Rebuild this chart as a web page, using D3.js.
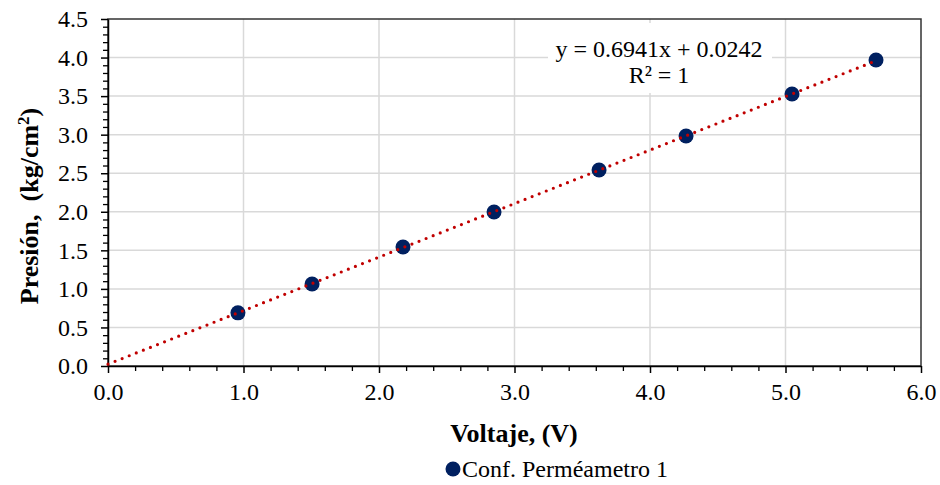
<!DOCTYPE html>
<html><head><meta charset="utf-8">
<script src="https://cdn.jsdelivr.net/npm/d3@7"></script>
<style>
html,body{margin:0;padding:0;background:#fff;}
</style></head>
<body><svg id="c" width="940" height="485" style="font-family:'Liberation Serif','Times New Roman',serif"></svg>
<script>
const voltage = [0.959, 1.506, 2.177, 2.849, 3.624, 4.266, 5.048, 5.668];
const pressure = [0.689, 1.064, 1.543, 1.997, 2.542, 2.983, 3.528, 3.969];
const xMajor = [0, 1, 2, 3, 4, 5, 6];
const yMajor = [0, 0.5, 1, 1.5, 2, 2.5, 3, 3.5, 4, 4.5];
const trendSlope = 0.6941, trendIntercept = 0.0242;
const equationLines = ["y = 0.6941x + 0.0242", "R² = 1"];
const seriesName = "Conf. Perméametro 1";

const FONT = '"Liberation Serif","Times New Roman",serif';
const svg = d3.select("#c");
const L = 108, R = 921, T = 19, B = 366;
const x = d3.scaleLinear().domain([0, 6]).range([L, R]);
const y = d3.scaleLinear().domain([0, 4.5]).range([B, T]);

// gridlines
svg.append("g").selectAll("line").data(yMajor.filter(v => v > 0 && v < 4.5)).join("line")
  .attr("x1", L).attr("x2", R).attr("y1", d => y(d)).attr("y2", d => y(d))
  .attr("stroke", "#d9d9d9").attr("stroke-width", 1.5);
svg.append("g").selectAll("line").data(xMajor.filter(v => v > 0 && v < 6)).join("line")
  .attr("y1", T).attr("y2", B).attr("x1", d => x(d)).attr("x2", d => x(d))
  .attr("stroke", "#d9d9d9").attr("stroke-width", 1.5);

// equation background box
svg.append("rect").attr("x", 548).attr("y", 23).attr("width", 224).attr("height", 70).attr("fill", "#fff");

// border
svg.append("rect").attr("x", L).attr("y", T).attr("width", R - L).attr("height", B - T)
  .attr("fill", "none").attr("stroke", "#333").attr("stroke-width", 1.5);

// minor ticks
const xMinor = d3.range(0, 6.0001, 0.2).map(v => +v.toFixed(1)).filter(v => !xMajor.includes(v));
const yMinor = d3.range(0, 4.5001, 0.1).map(v => +v.toFixed(1)).filter(v => !yMajor.some(m => Math.abs(m - v) < 1e-6));
svg.append("g").attr("transform", `translate(0,${B})`)
  .call(d3.axisBottom(x).tickValues(xMinor).tickSize(5).tickFormat(""))
  .call(g => g.select(".domain").remove())
  .call(g => g.selectAll("line").attr("stroke", "#000").attr("stroke-width", 1.3));
svg.append("g").attr("transform", `translate(${L},0)`)
  .call(d3.axisLeft(y).tickValues(yMinor).tickSize(5).tickFormat(""))
  .call(g => g.select(".domain").remove())
  .call(g => g.selectAll("line").attr("stroke", "#000").attr("stroke-width", 1.3));

// major axes
const xa = svg.append("g").attr("transform", `translate(0,${B})`)
  .call(d3.axisBottom(x).tickValues(xMajor).tickSize(7).tickSizeOuter(0).tickPadding(10).tickFormat(d3.format(".1f")));
xa.attr("font-family", FONT);
xa.select(".domain").attr("stroke", "#000").attr("stroke-width", 1.5);
xa.selectAll("line").attr("stroke", "#000").attr("stroke-width", 1.5);
xa.selectAll("text").attr("font-size", 24).attr("fill", "#000").style("font-family", FONT);

const ya = svg.append("g").attr("transform", `translate(${L},0)`)
  .call(d3.axisLeft(y).tickValues(yMajor).tickSize(7).tickSizeOuter(0).tickPadding(13).tickFormat(d3.format(".1f")));
ya.attr("font-family", FONT);
ya.select(".domain").attr("stroke", "#000").attr("stroke-width", 1.5);
ya.selectAll("line").attr("stroke", "#000").attr("stroke-width", 1.5);
ya.selectAll("text").attr("font-size", 24).attr("fill", "#000").style("font-family", FONT);

// points
svg.append("g").selectAll("circle").data(voltage.map((v, i) => [v, pressure[i]])).join("circle")
  .attr("cx", d => x(d[0])).attr("cy", d => y(d[1])).attr("r", 7.5).attr("fill", "#002060");

// trendline
const xEnd = d3.max(voltage);
svg.append("line")
  .attr("x1", x(0)).attr("y1", y(trendIntercept))
  .attr("x2", x(xEnd)).attr("y2", y(trendSlope * xEnd + trendIntercept))
  .attr("stroke", "#c00000").attr("stroke-width", 3.2)
  .attr("stroke-linecap", "round").attr("stroke-dasharray", "0 7.6");

// equation
svg.append("text").attr("x", 659).attr("y", 57).attr("text-anchor", "middle").style("font-family", FONT)
  .attr("font-size", 24).attr("fill", "#000").text(equationLines[0]);
svg.append("text").attr("x", 659).attr("y", 83).attr("text-anchor", "middle").style("font-family", FONT)
  .attr("font-size", 24).attr("fill", "#000").text(equationLines[1]);

// axis titles
svg.append("text").attr("x", 514).attr("y", 442).attr("text-anchor", "middle").style("font-family", FONT)
  .attr("font-size", 26).attr("font-weight", "bold").attr("fill", "#000").text("Voltaje, (V)");
const yt = svg.append("text").attr("transform", "translate(38,206) rotate(-90)").style("font-family", FONT)
  .attr("text-anchor", "middle").attr("font-size", 26).attr("font-weight", "bold").attr("fill", "#000");
yt.append("tspan").text("Presión,\u00a0\u00a0(kg/cm");
yt.append("tspan").attr("dy", -9).attr("font-size", 17).text("2");
yt.append("tspan").attr("dy", 9).text(")");

// legend
svg.append("circle").attr("cx", 453).attr("cy", 469).attr("r", 7.5).attr("fill", "#002060");
svg.append("text").attr("x", 462).attr("y", 477).style("font-family", FONT).attr("font-size", 24).attr("fill", "#000").text(seriesName);
</script></body></html>
